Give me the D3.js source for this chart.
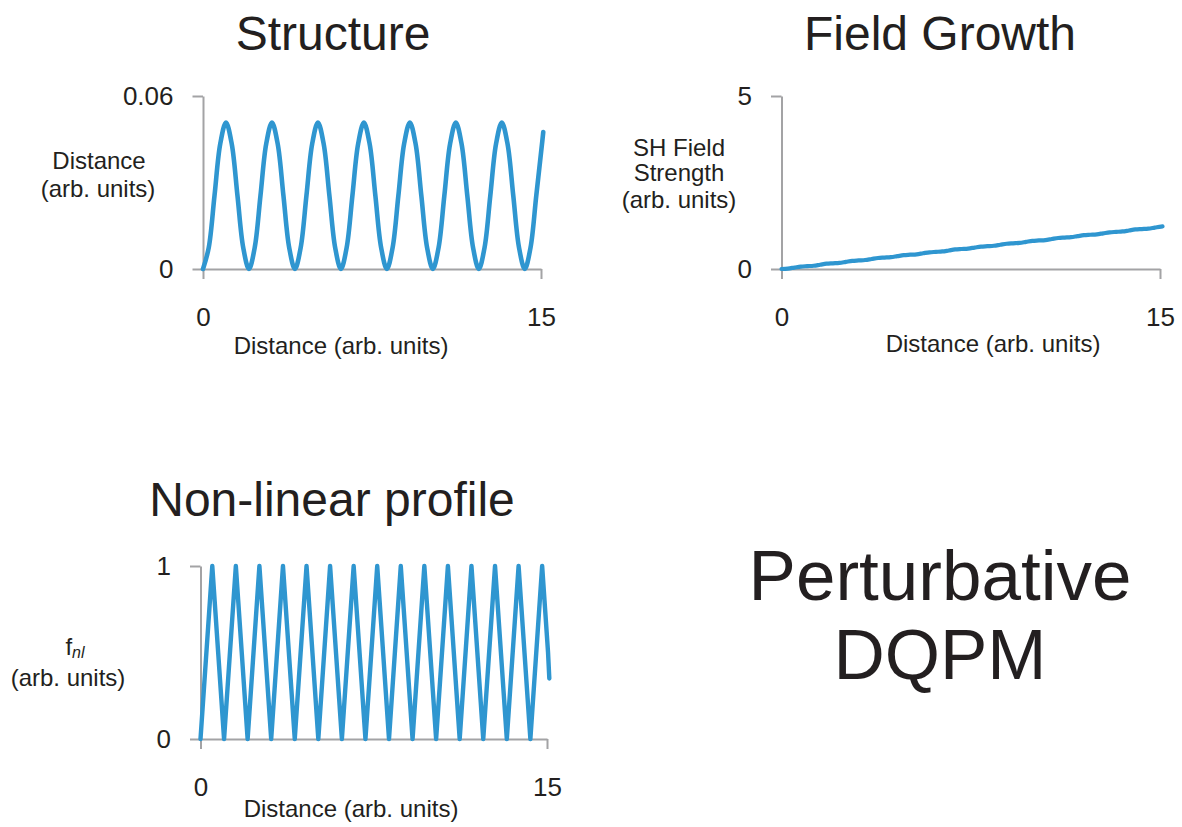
<!DOCTYPE html>
<html>
<head>
<meta charset="utf-8">
<script src="https://cdn.jsdelivr.net/npm/d3@7"></script>
<style>
  body { margin: 0; background: #ffffff; }
  svg { display: block; }
  text { font-family: "Liberation Sans", Arial, Helvetica, sans-serif; fill: #231f20; }
</style>
</head>
<body>
<svg id="chart" width="1182" height="827"></svg>
<script>
// Shared sampling positions along the propagation distance (arb. units)
const distance = [
  0, 0.255, 0.51, 0.765, 1.02, 1.275, 1.53, 1.785, 2.04, 2.295,
  2.55, 2.805, 3.06, 3.315, 3.57, 3.825, 4.08, 4.335, 4.59, 4.845,
  5.1, 5.355, 5.61, 5.865, 6.12, 6.375, 6.63, 6.885, 7.14, 7.395,
  7.65, 7.905, 8.16, 8.415, 8.67, 8.925, 9.18, 9.435, 9.69, 9.945,
  10.2, 10.455, 10.71, 10.965, 11.22, 11.475, 11.73, 11.985, 12.24, 12.495,
  12.75, 13.005, 13.26, 13.515, 13.77, 14.025, 14.28, 14.535, 14.79, 15.045,
  15.1
];

// Structure profile (arb. units)
const structure = [
  0, 0.0074, 0.0254, 0.0434, 0.0508, 0.0434, 0.0254, 0.0074, 0, 0.0074,
  0.0254, 0.0434, 0.0508, 0.0434, 0.0254, 0.0074, 0, 0.0074, 0.0254, 0.0434,
  0.0508, 0.0434, 0.0254, 0.0074, 0, 0.0074, 0.0254, 0.0434, 0.0508, 0.0434,
  0.0254, 0.0074, 0, 0.0074, 0.0254, 0.0434, 0.0508, 0.0434, 0.0254, 0.0074,
  0, 0.0074, 0.0254, 0.0434, 0.0508, 0.0434, 0.0254, 0.0074, 0, 0.0074,
  0.0254, 0.0434, 0.0508, 0.0434, 0.0254, 0.0074, 0, 0.0074, 0.0254, 0.0434,
  0.0475
];

// SH field strength (arb. units)
const fieldGrowth = [
  0, 0.012, 0.041, 0.070, 0.083, 0.095, 0.124, 0.153, 0.165, 0.177,
  0.206, 0.235, 0.248, 0.260, 0.289, 0.318, 0.330, 0.342, 0.371, 0.400,
  0.413, 0.425, 0.454, 0.483, 0.495, 0.507, 0.536, 0.565, 0.578, 0.590,
  0.619, 0.648, 0.660, 0.672, 0.701, 0.730, 0.743, 0.755, 0.784, 0.813,
  0.825, 0.837, 0.866, 0.895, 0.908, 0.920, 0.949, 0.978, 0.990, 1.002,
  1.031, 1.060, 1.073, 1.085, 1.114, 1.143, 1.155, 1.167, 1.196, 1.225,
  1.230
];

// Non-linear profile f_nl (arb. units)
const nonlinearProfile = [
  0, 0.5, 1, 0.5, 0, 0.5, 1, 0.5, 0, 0.5,
  1, 0.5, 0, 0.5, 1, 0.5, 0, 0.5, 1, 0.5,
  0, 0.5, 1, 0.5, 0, 0.5, 1, 0.5, 0, 0.5,
  1, 0.5, 0, 0.5, 1, 0.5, 0, 0.5, 1, 0.5,
  0, 0.5, 1, 0.5, 0, 0.5, 1, 0.5, 0, 0.5,
  1, 0.5, 0, 0.5, 1, 0.5, 0, 0.5, 1, 0.5,
  0.35
];

const distanceTicks = [0, 15];
const structureTicks = [0, 0.06];
const fieldTicks = [0, 5];
const profileTicks = [0, 1];

const LINE_COLOR = "#2f96d0";
const AXIS_COLOR = "#a3a3a5";
const LABEL_SIZE = 24;

const svg = d3.select("#chart");

function drawPanel(opt) {
  const x = d3.scaleLinear().domain([0, 15]).range([opt.left, opt.right]);
  const y = d3.scaleLinear().domain([0, opt.yMax]).range([opt.bottom, opt.top]);
  const g = svg.append("g");

  const yAxis = d3.axisLeft(y)
    .tickValues(opt.yTicks)
    .tickSize(10.5)
    .tickSizeOuter(0)
    .tickPadding(19)
    .tickFormat(d => String(d));
  const xAxis = d3.axisBottom(x)
    .tickValues(distanceTicks)
    .tickSize(10)
    .tickSizeOuter(0)
    .tickPadding(29)
    .tickFormat(d => String(d));

  const gy = g.append("g").attr("transform", `translate(${opt.left},0)`).call(yAxis);
  const gx = g.append("g").attr("transform", `translate(0,${opt.bottom})`).call(xAxis);
  [gx, gy].forEach(a => {
    a.attr("font-family", null).attr("font-size", null);
    a.selectAll("path, line").attr("stroke", AXIS_COLOR).attr("stroke-width", 2);
    a.selectAll("text").attr("font-size", 26).attr("fill", "#231f20");
  });

  const line = d3.line()
    .x((d, i) => x(distance[i]))
    .y(d => y(d))
    .curve(opt.curve);

  g.append("path")
    .datum(opt.values)
    .attr("fill", "none")
    .attr("stroke", LINE_COLOR)
    .attr("stroke-width", opt.lineWidth)
    .attr("stroke-linejoin", "round")
    .attr("stroke-linecap", "round")
    .attr("d", line);

  // panel title
  g.append("text")
    .attr("x", opt.titleX).attr("y", opt.titleY)
    .attr("text-anchor", "middle")
    .attr("font-size", 48)
    .text(opt.title);

  // x-axis title
  g.append("text")
    .attr("x", opt.xTitleX).attr("y", opt.xTitleY)
    .attr("text-anchor", "middle")
    .attr("font-size", LABEL_SIZE)
    .text("Distance (arb. units)");

  return g;
}

// Structure
const p1 = drawPanel({
  left: 203, right: 541, top: 96, bottom: 269,
  yMax: 0.06, yTicks: structureTicks, values: structure,
  curve: d3.curveCatmullRom.alpha(0.5), lineWidth: 4.6,
  title: "Structure", titleX: 333, titleY: 50,
  xTitleX: 341, xTitleY: 354
});
p1.append("text").attr("x", 99).attr("y", 169).attr("text-anchor", "middle")
  .attr("font-size", LABEL_SIZE).text("Distance");
p1.append("text").attr("x", 98).attr("y", 197).attr("text-anchor", "middle")
  .attr("font-size", LABEL_SIZE).text("(arb. units)");

// Field Growth
const p2 = drawPanel({
  left: 781.5, right: 1160, top: 96, bottom: 269,
  yMax: 5, yTicks: fieldTicks, values: fieldGrowth,
  curve: d3.curveMonotoneX, lineWidth: 4.2,
  title: "Field Growth", titleX: 940, titleY: 50,
  xTitleX: 993, xTitleY: 352
});
[["SH Field", 156], ["Strength", 181], ["(arb. units)", 208]].forEach(([t, yy]) => {
  p2.append("text").attr("x", 679).attr("y", yy).attr("text-anchor", "middle")
    .attr("font-size", LABEL_SIZE).text(t);
});

// Non-linear profile
const p3 = drawPanel({
  left: 200.5, right: 547, top: 566, bottom: 739,
  yMax: 1, yTicks: profileTicks, values: nonlinearProfile,
  curve: d3.curveLinear, lineWidth: 4.4,
  title: "Non-linear profile", titleX: 332, titleY: 516,
  xTitleX: 351, xTitleY: 817
});
const fnl = p3.append("text").attr("x", 75).attr("y", 655).attr("text-anchor", "middle")
  .attr("font-size", LABEL_SIZE);
fnl.append("tspan").text("f");
fnl.append("tspan").attr("font-size", 16).attr("font-style", "italic").attr("dy", 3).text("nl");
p3.append("text").attr("x", 68).attr("y", 686).attr("text-anchor", "middle")
  .attr("font-size", LABEL_SIZE).text("(arb. units)");

// Method label
const label = svg.append("text").attr("text-anchor", "middle").attr("font-size", 71);
label.append("tspan").attr("x", 940).attr("y", 600).text("Perturbative");
label.append("tspan").attr("x", 940).attr("y", 679).text("DQPM");
</script>
</body>
</html>
